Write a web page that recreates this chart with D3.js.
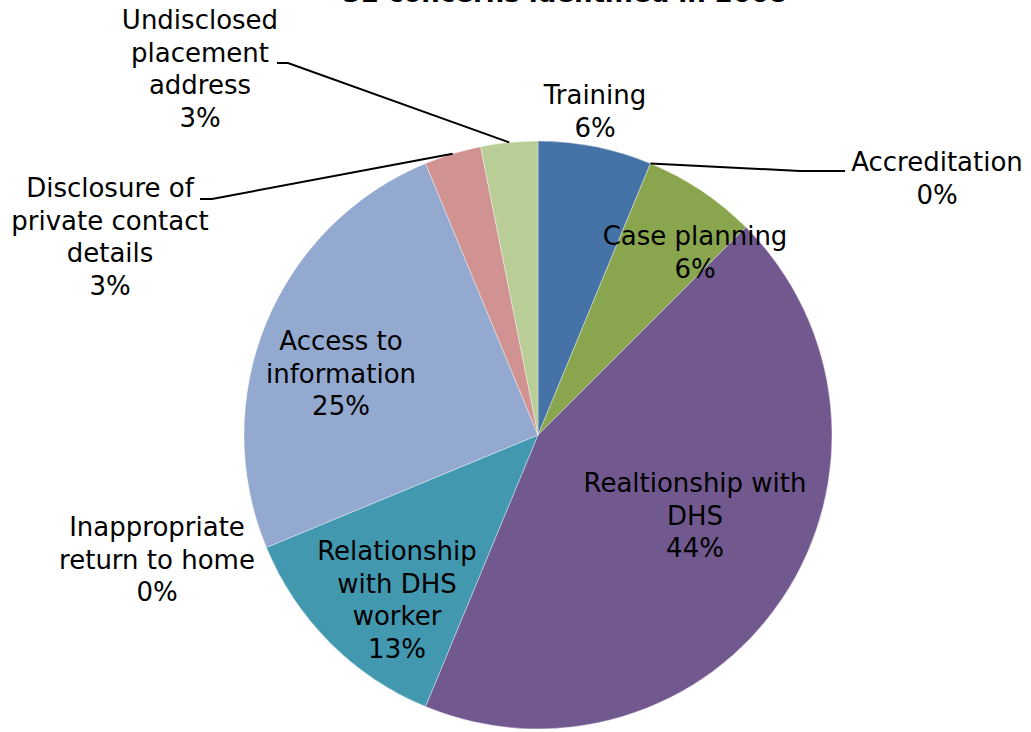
<!DOCTYPE html>
<html>
<head>
<meta charset="utf-8">
<script src="https://cdn.jsdelivr.net/npm/d3@7"></script>
<style>
  body { margin: 0; background: #fff; }
  text { font-family: "DejaVu Sans", Verdana, sans-serif; font-size: 26px; fill: #000; }
</style>
</head>
<body>
<div id="chart"></div>
<script>
// data: number of concerns per category (32 in total)
let categories = [
  "Training", "Accreditation", "Case planning", "Realtionship with DHS",
  "Relationship with DHS worker", "Inappropriate return to home",
  "Access to information", "Disclosure of private contact details",
  "Undisclosed placement address"
];
let counts = [2, 0, 2, 14, 4, 0, 8, 1, 1];
let colors = ["#4572a7", "#aa4643", "#89a54e", "#71588f", "#4198af", "#db843d", "#93a9cf", "#d19392", "#b9cd96"];
let title = "32 concerns identified in 2008";

// label layout: wrapped lines + position of the first line
let labelLines = [
  ["Training"],
  ["Accreditation"],
  ["Case planning"],
  ["Realtionship with", "DHS"],
  ["Relationship", "with DHS", "worker"],
  ["Inappropriate", "return to home"],
  ["Access to", "information"],
  ["Disclosure of", "private contact", "details"],
  ["Undisclosed", "placement", "address"]
];
let labelPos = [
  [595, 104], [937, 171], [695, 245], [695, 492], [397, 560],
  [157, 536], [341, 350], [110, 197], [200, 29]
];
// leader lines: [elbow x, elbow y, end x] for labels placed outside
let leaders = { 1: [800, 171, 845], 7: [212, 199, 200], 8: [288, 63, 277] };

let W = 1031, H = 732;
let cx = 538, cy = 435, R = 294, lh = 32.5;

let svg = d3.select("#chart").append("svg").attr("width", W).attr("height", H);

svg.append("text")
  .attr("x", 565).attr("y", 2)
  .attr("text-anchor", "middle")
  .style("font-weight", "bold")
  .text(title);

let pie = d3.pie().sort(null).value((d) => d)(counts);
let arc = d3.arc().innerRadius(0).outerRadius(R);
let edge = d3.arc().innerRadius(R).outerRadius(R);

let g = svg.append("g").attr("transform", `translate(${cx},${cy})`);
g.selectAll("path")
  .data(pie)
  .join("path")
  .attr("d", arc)
  .attr("fill", (d, i) => colors[i])
  .attr("stroke", (d) => (d.value > 0 ? "rgba(255,255,255,0.45)" : "none"))
  .attr("stroke-width", 0.8);

// leader lines from the slice's outer edge
Object.keys(leaders).forEach((k) => {
  let p = edge.centroid(pie[k]);
  let [ex, ey, tx] = leaders[k];
  svg.append("polyline")
    .attr("points", `${cx + p[0]},${cy + p[1]} ${ex},${ey} ${tx},${ey}`)
    .attr("fill", "none")
    .attr("stroke", "#000")
    .attr("stroke-width", 2);
});

let pct = (v) => Math.round((v / d3.sum(counts)) * 100) + "%";

labelLines.forEach((lines, i) => {
  let t = svg.append("text")
    .attr("x", labelPos[i][0]).attr("y", labelPos[i][1])
    .attr("text-anchor", "middle");
  lines.concat([pct(counts[i])]).forEach((s, j) => {
    t.append("tspan")
      .attr("x", labelPos[i][0])
      .attr("dy", j === 0 ? 0 : lh)
      .text(s);
  });
});
</script>
</body>
</html>
